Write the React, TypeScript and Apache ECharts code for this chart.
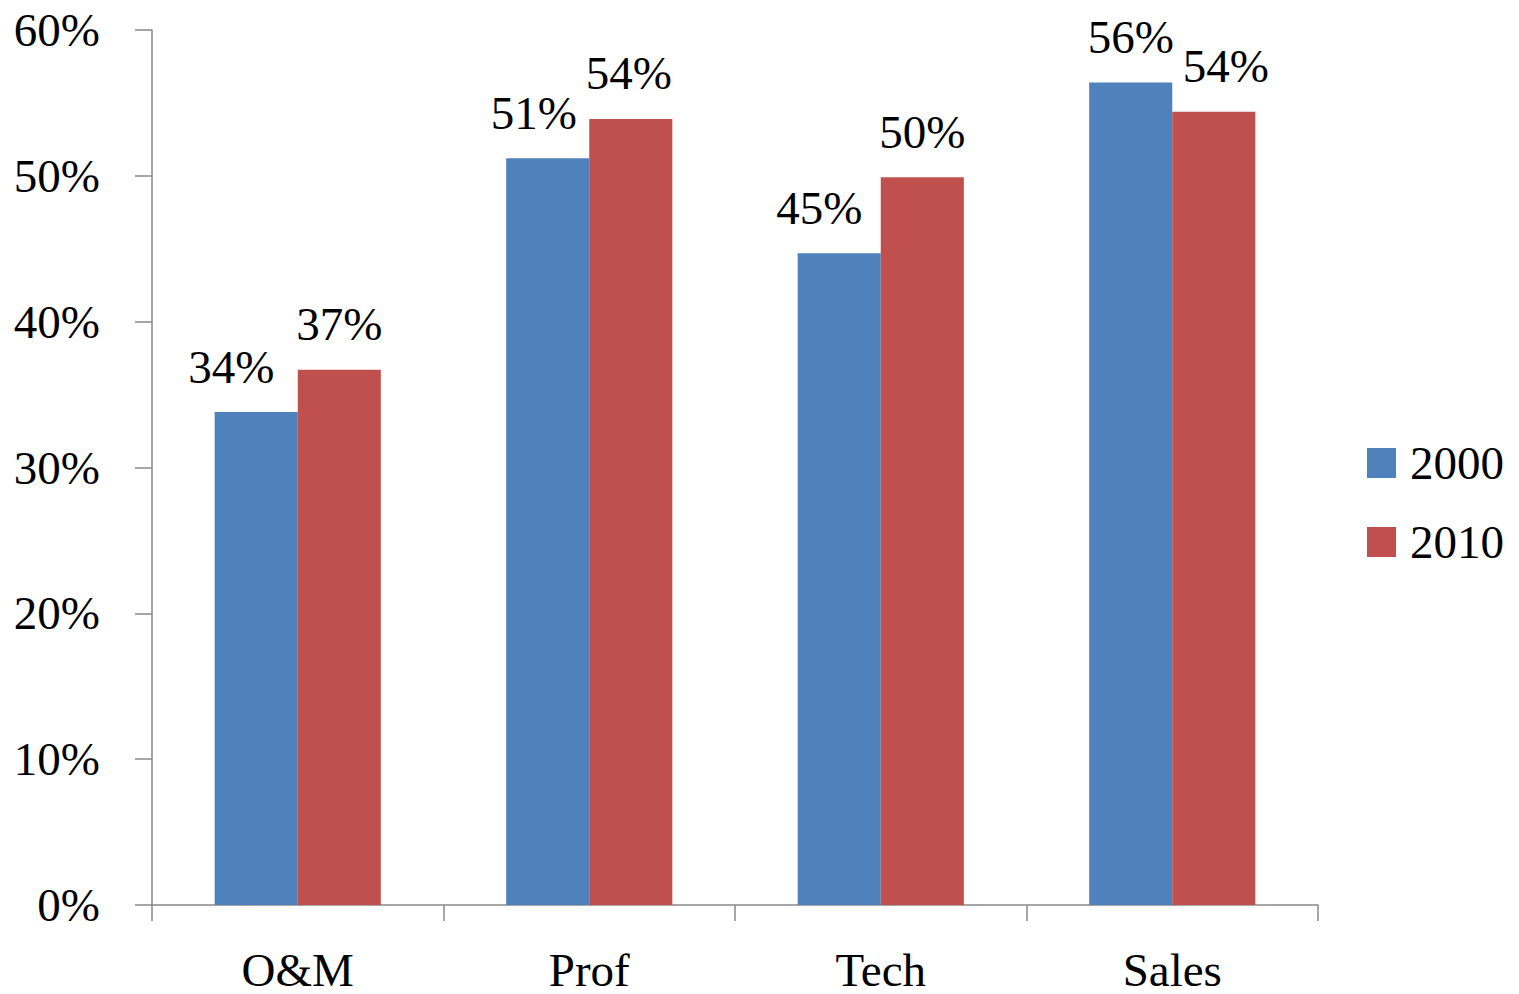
import React, { useEffect, useRef } from "react";
import * as echarts from "echarts";

const categories = ["O&M", "Prof", "Tech", "Sales"];
const values2000 = [33.8, 51.2, 44.7, 56.4];
const values2010 = [36.7, 53.9, 49.9, 54.4];
const labels2000 = ["34%", "51%", "45%", "56%"];
const labels2010 = ["37%", "54%", "50%", "54%"];
const labelShift2000 = [-25, -14, -20, 0];
const labelShift2010 = [0, -2, 0, 12];
const seriesNames = ["2000", "2010"];
const yTicks = [0, 10, 20, 30, 40, 50, 60];

const FONT = "'Liberation Serif', 'DejaVu Serif', serif";

export default function App() {
  const ref = useRef<HTMLDivElement>(null);
  useEffect(() => {
    if (!ref.current) return;
    const chart = echarts.init(ref.current, undefined, { renderer: "svg" });
    const mk = (vals: number[], labels: string[], shifts: number[]) =>
      vals.map((v, i) => ({
        value: v,
        label: { formatter: labels[i], offset: [shifts[i], 0] },
      }));
    chart.setOption({
      animation: false,
      backgroundColor: "#ffffff",
      textStyle: { fontFamily: FONT },
      grid: { left: 152, right: 201, top: 30, bottom: 89, containLabel: false },
      legend: {
        orient: "vertical",
        left: 1367,
        top: 438,
        padding: 0,
        itemWidth: 29,
        itemHeight: 30,
        itemGap: 29,
        icon: "rect",
        data: seriesNames,
        textStyle: { fontFamily: FONT, fontSize: 47, color: "#000", lineHeight: 50, padding: [0, 0, 0, 9] },
      },
      xAxis: {
        type: "category",
        data: categories,
        axisLine: { lineStyle: { color: "#888888", width: 1.5 } },
        axisTick: { show: true, length: 16, lineStyle: { color: "#888888", width: 1.5 } },
        axisLabel: { fontFamily: FONT, fontSize: 47, color: "#000", margin: 41 },
        splitLine: { show: false },
      },
      yAxis: {
        type: "value",
        min: 0,
        max: 60,
        interval: 10,
        axisLine: { show: true, lineStyle: { color: "#888888", width: 1.5 } },
        axisTick: { show: true, length: 17, lineStyle: { color: "#888888", width: 1.5 } },
        axisLabel: {
          fontFamily: FONT,
          fontSize: 47,
          color: "#000",
          margin: 52,
          formatter: (v: number) => (yTicks.includes(v) ? v + "%" : ""),
        },
        splitLine: { show: false },
      },
      series: [
        {
          name: seriesNames[0],
          type: "bar",
          data: mk(values2000, labels2000, labelShift2000),
          itemStyle: { color: "#4F81BD" },
          barGap: "0%",
          barCategoryGap: "43%",
          label: { show: true, position: "top", distance: 22, fontFamily: FONT, fontSize: 47, color: "#000" },
        },
        {
          name: seriesNames[1],
          type: "bar",
          data: mk(values2010, labels2010, labelShift2010),
          itemStyle: { color: "#C0504D" },
          barGap: "0%",
          barCategoryGap: "43%",
          label: { show: true, position: "top", distance: 22, fontFamily: FONT, fontSize: 47, color: "#000" },
        },
      ],
    });
    return () => chart.dispose();
  }, []);
  return (
    <div
      ref={ref}
      style={{ position: "absolute", left: 0, top: 0, width: 1519, height: 994 }}
    />
  );
}
